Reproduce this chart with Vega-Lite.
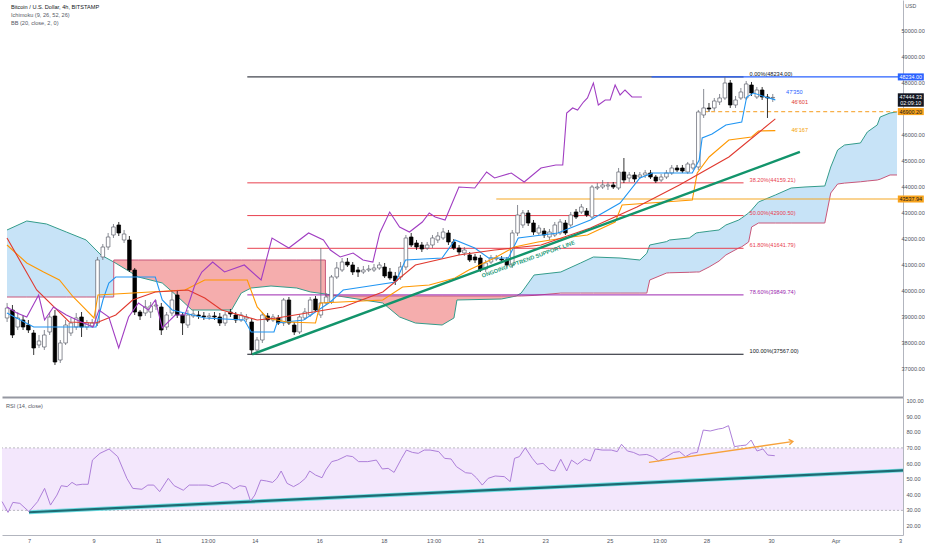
{
  "$schema": "https://vega.github.io/schema/vega-lite/v6.json",
  "background": "#ffffff",
  "padding": 0,
  "bounds": "flush",
  "spacing": 0,
  "config": {
    "view": {"stroke": null},
    "font": "Liberation Sans",
    "axis": {"labelFont": "Liberation Sans", "labelFontSize": 5.6, "labelColor": "#50535e", "ticks": false, "grid": false, "domainColor": "#b2b5be"},
    "text": {"font": "Liberation Sans", "fontSize": 5.6}
  },
  "datasets": {
    "candles": [
      {"i":-5,"o":38962,"h":39539,"l":38808,"c":39346},{"i":-4,"o":39269,"h":39462,"l":38192,"c":38308},
      {"i":-3,"o":38615,"h":39192,"l":38500,"c":38962},{"i":-2,"o":38885,"h":39077,"l":38500,"c":38615},
      {"i":-1,"o":38692,"h":38885,"l":38385,"c":38500},{"i":0,"o":38385,"h":38500,"l":37539,"c":37808},
      {"i":1,"o":37923,"h":38308,"l":37808,"c":38077},{"i":2,"o":37846,"h":38500,"l":37731,"c":38308},
      {"i":3,"o":38423,"h":39192,"l":38308,"c":39000},{"i":4,"o":39039,"h":39269,"l":37154,"c":37269},
      {"i":5,"o":37346,"h":38115,"l":37231,"c":38000},{"i":6,"o":38000,"h":38885,"l":37923,"c":38692},
      {"i":7,"o":38385,"h":38962,"l":38269,"c":38769},{"i":8,"o":38615,"h":39154,"l":38500,"c":38962},
      {"i":9,"o":39000,"h":39192,"l":38231,"c":38615},{"i":10,"o":38615,"h":38885,"l":38500,"c":38769},
      {"i":11,"o":38654,"h":38923,"l":38577,"c":38769},{"i":12,"o":38769,"h":41308,"l":38654,"c":41192},
      {"i":13,"o":41308,"h":41808,"l":41192,"c":41692},{"i":14,"o":41692,"h":42231,"l":41577,"c":42077},
      {"i":15,"o":42154,"h":42577,"l":42039,"c":42462},{"i":16,"o":42539,"h":42654,"l":42115,"c":42231},
      {"i":17,"o":41962,"h":42346,"l":41846,"c":42192},{"i":18,"o":41962,"h":42115,"l":40731,"c":40808},
      {"i":19,"o":40808,"h":40885,"l":39077,"c":39192},{"i":20,"o":39192,"h":39269,"l":38885,"c":39039},
      {"i":21,"o":39154,"h":39654,"l":39039,"c":39385},{"i":22,"o":39192,"h":39577,"l":38962,"c":39423},
      {"i":23,"o":39423,"h":39654,"l":39269,"c":39462},{"i":24,"o":39385,"h":39539,"l":38308,"c":38500},
      {"i":25,"o":38615,"h":39192,"l":38500,"c":39077},{"i":26,"o":39154,"h":40039,"l":39039,"c":39654},
      {"i":27,"o":39846,"h":40039,"l":38962,"c":39077},{"i":28,"o":39077,"h":39192,"l":38308,"c":38769},
      {"i":29,"o":38692,"h":39269,"l":38577,"c":39077},{"i":30,"o":39039,"h":39269,"l":38962,"c":39115},
      {"i":31,"o":39077,"h":39231,"l":38923,"c":39039},{"i":32,"o":39039,"h":39192,"l":38885,"c":39000},
      {"i":33,"o":39000,"h":39154,"l":38885,"c":39039},{"i":34,"o":39039,"h":39192,"l":38885,"c":39000},
      {"i":35,"o":39000,"h":39154,"l":38654,"c":38769},{"i":36,"o":38769,"h":39192,"l":38654,"c":39077},
      {"i":37,"o":39192,"h":39308,"l":39000,"c":39115},{"i":38,"o":39077,"h":39192,"l":38769,"c":38885},
      {"i":39,"o":38885,"h":39192,"l":38808,"c":39077},{"i":40,"o":38923,"h":39115,"l":38808,"c":39000},
      {"i":41,"o":38808,"h":38962,"l":37567,"c":37731},{"i":42,"o":37731,"h":38231,"l":37615,"c":38115},
      {"i":43,"o":38115,"h":39192,"l":38000,"c":39077},{"i":44,"o":39039,"h":39154,"l":38808,"c":38885},
      {"i":45,"o":38885,"h":39115,"l":38808,"c":39000},{"i":46,"o":38962,"h":39077,"l":38692,"c":38769},
      {"i":47,"o":38769,"h":39731,"l":38654,"c":39654},{"i":48,"o":39654,"h":39769,"l":38692,"c":38769},
      {"i":49,"o":38692,"h":38808,"l":38308,"c":38423},{"i":50,"o":38423,"h":39115,"l":38346,"c":39000},
      {"i":51,"o":38962,"h":39346,"l":38885,"c":39192},{"i":52,"o":39077,"h":39769,"l":39000,"c":39654},
      {"i":53,"o":39692,"h":39808,"l":39192,"c":39269},{"i":54,"o":39077,"h":41654,"l":38962,"c":39539},
      {"i":55,"o":39539,"h":39923,"l":39462,"c":39769},{"i":56,"o":39577,"h":40615,"l":39500,"c":40539},
      {"i":57,"o":40539,"h":41115,"l":40462,"c":40885},{"i":58,"o":40808,"h":41269,"l":40731,"c":41115},
      {"i":59,"o":41115,"h":41269,"l":40923,"c":41000},{"i":60,"o":41000,"h":41115,"l":40615,"c":40731},
      {"i":61,"o":40808,"h":40923,"l":40539,"c":40731},{"i":62,"o":40731,"h":40962,"l":40654,"c":40808},
      {"i":63,"o":40808,"h":41000,"l":40731,"c":40846},{"i":64,"o":40808,"h":41039,"l":40731,"c":40885},
      {"i":65,"o":40885,"h":41115,"l":40808,"c":41000},{"i":66,"o":40923,"h":41077,"l":40500,"c":40577},
      {"i":67,"o":40731,"h":40885,"l":40423,"c":40500},{"i":68,"o":40577,"h":40731,"l":40231,"c":40385},
      {"i":69,"o":40539,"h":41115,"l":40423,"c":40923},{"i":70,"o":40923,"h":42154,"l":40808,"c":42039},
      {"i":71,"o":42077,"h":42231,"l":41692,"c":41769},{"i":72,"o":41846,"h":41962,"l":41577,"c":41692},
      {"i":73,"o":41769,"h":41885,"l":41500,"c":41615},{"i":74,"o":41654,"h":41885,"l":41577,"c":41769},
      {"i":75,"o":41769,"h":42154,"l":41654,"c":42039},{"i":76,"o":41962,"h":42269,"l":41846,"c":42115},
      {"i":77,"o":42039,"h":42423,"l":41962,"c":42269},{"i":78,"o":42231,"h":42346,"l":41769,"c":41885},
      {"i":79,"o":41885,"h":42000,"l":41577,"c":41654},{"i":80,"o":41654,"h":41769,"l":41385,"c":41500},
      {"i":81,"o":41462,"h":41692,"l":41346,"c":41577},{"i":82,"o":41385,"h":41500,"l":41115,"c":41192},
      {"i":83,"o":41308,"h":41423,"l":41077,"c":41192},{"i":84,"o":41269,"h":41385,"l":40731,"c":40808},
      {"i":85,"o":40846,"h":41192,"l":40731,"c":41077},{"i":86,"o":41115,"h":41385,"l":41039,"c":41269},
      {"i":87,"o":41231,"h":41385,"l":41154,"c":41269},{"i":88,"o":41231,"h":41346,"l":41115,"c":41192},
      {"i":89,"o":41192,"h":41308,"l":40923,"c":41000},{"i":90,"o":41000,"h":42346,"l":40885,"c":42231},
      {"i":91,"o":42231,"h":43308,"l":42115,"c":42923},{"i":92,"o":42539,"h":43115,"l":42423,"c":43000},
      {"i":93,"o":43000,"h":43115,"l":42500,"c":42615},{"i":94,"o":42615,"h":42731,"l":42154,"c":42269},
      {"i":95,"o":42231,"h":42539,"l":42154,"c":42423},{"i":96,"o":42308,"h":42423,"l":42039,"c":42154},
      {"i":97,"o":42077,"h":42385,"l":41962,"c":42269},{"i":98,"o":42154,"h":42654,"l":42077,"c":42539},
      {"i":99,"o":42231,"h":42769,"l":42154,"c":42654},{"i":100,"o":42615,"h":42731,"l":42154,"c":42231},
      {"i":101,"o":42539,"h":43039,"l":42462,"c":42923},{"i":102,"o":43039,"h":43154,"l":42769,"c":42846},
      {"i":103,"o":43039,"h":43346,"l":42962,"c":43231},{"i":104,"o":43077,"h":43192,"l":42846,"c":42923},
      {"i":105,"o":42846,"h":44077,"l":42769,"c":44000},{"i":106,"o":43962,"h":44154,"l":43885,"c":44000},
      {"i":107,"o":44000,"h":44269,"l":43923,"c":44077},{"i":108,"o":44039,"h":44192,"l":43885,"c":44077},
      {"i":109,"o":44077,"h":44192,"l":43923,"c":44000},{"i":110,"o":43962,"h":44731,"l":43885,"c":44577},
      {"i":111,"o":44577,"h":45115,"l":44154,"c":44269},{"i":112,"o":44346,"h":44577,"l":44192,"c":44462},
      {"i":113,"o":44462,"h":44577,"l":44192,"c":44308},{"i":114,"o":44385,"h":44577,"l":44308,"c":44462},
      {"i":115,"o":44462,"h":44654,"l":44346,"c":44539},{"i":116,"o":44539,"h":44654,"l":44308,"c":44385},
      {"i":117,"o":44385,"h":44462,"l":44154,"c":44231},{"i":118,"o":44269,"h":44500,"l":44192,"c":44385},
      {"i":119,"o":44385,"h":44654,"l":44308,"c":44539},{"i":120,"o":44539,"h":44846,"l":44462,"c":44731},
      {"i":121,"o":44731,"h":44846,"l":44577,"c":44654},{"i":122,"o":44731,"h":44846,"l":44539,"c":44615},
      {"i":123,"o":44577,"h":44962,"l":44500,"c":44885},{"i":124,"o":44731,"h":45039,"l":44654,"c":44885},
      {"i":125,"o":44769,"h":46962,"l":44654,"c":46885},{"i":126,"o":46769,"h":47769,"l":46654,"c":47039},
      {"i":127,"o":47039,"h":47231,"l":46885,"c":47000},{"i":128,"o":47039,"h":47423,"l":46923,"c":47308},
      {"i":129,"o":47269,"h":47577,"l":47154,"c":47423},{"i":130,"o":47423,"h":48234,"l":47346,"c":48000},
      {"i":131,"o":48000,"h":48115,"l":47039,"c":47154},{"i":132,"o":47154,"h":47500,"l":47039,"c":47346},
      {"i":133,"o":47423,"h":47808,"l":47346,"c":47654},{"i":134,"o":47423,"h":48077,"l":47346,"c":47962},
      {"i":135,"o":47923,"h":48039,"l":47500,"c":47615},{"i":136,"o":47462,"h":47846,"l":47385,"c":47731},
      {"i":137,"o":47731,"h":47846,"l":47346,"c":47462},{"i":138,"o":47462,"h":47577,"l":46654,"c":47423},
      {"i":139,"o":47423,"h":47577,"l":47269,"c":47444}
    ],
    "lines": [
      {"s":"tenkan","i":-5.02,"p":39154},{"s":"tenkan","i":0,"p":38615},{"s":"tenkan","i":11.72,"p":38615},
      {"s":"tenkan","i":13.02,"p":39654},{"s":"tenkan","i":14.13,"p":40308},{"s":"tenkan","i":15.44,"p":40538},
      {"s":"tenkan","i":22.87,"p":40538},{"s":"tenkan","i":24.18,"p":39654},{"s":"tenkan","i":26.04,"p":39269},
      {"s":"tenkan","i":32.17,"p":38962},{"s":"tenkan","i":39.61,"p":38885},{"s":"tenkan","i":40.91,"p":38423},
      {"s":"tenkan","i":45.19,"p":38423},{"s":"tenkan","i":45.75,"p":38769},{"s":"tenkan","i":50.77,"p":38885},
      {"s":"tenkan","i":55.79,"p":39577},{"s":"tenkan","i":58.21,"p":40039},{"s":"tenkan","i":61.93,"p":40154},
      {"s":"tenkan","i":68.07,"p":40346},{"s":"tenkan","i":69.93,"p":41192},{"s":"tenkan","i":76.81,"p":41269},
      {"s":"tenkan","i":79.23,"p":41962},{"s":"tenkan","i":82.95,"p":41654},{"s":"tenkan","i":85.55,"p":41269},
      {"s":"tenkan","i":89.27,"p":41269},{"s":"tenkan","i":91.13,"p":42038},{"s":"tenkan","i":98.57,"p":42231},
      {"s":"tenkan","i":104.71,"p":42731},{"s":"tenkan","i":110.28,"p":43385},{"s":"tenkan","i":114.01,"p":44346},
      {"s":"tenkan","i":116.42,"p":44538},{"s":"tenkan","i":123.86,"p":44538},{"s":"tenkan","i":125.16,"p":45038},
      {"s":"tenkan","i":125.72,"p":45885},{"s":"tenkan","i":127.58,"p":46038},{"s":"tenkan","i":130.18,"p":46385},
      {"s":"tenkan","i":133.16,"p":46500},{"s":"tenkan","i":134.09,"p":47461},{"s":"tenkan","i":135.39,"p":47615},
      {"s":"tenkan","i":137.62,"p":47461},{"s":"tenkan","i":139.48,"p":47350},
      {"s":"kijun","i":-5.02,"p":41769},{"s":"kijun","i":-1.3,"p":41077},{"s":"kijun","i":1.86,"p":40731},
      {"s":"kijun","i":4.84,"p":40423},{"s":"kijun","i":7.44,"p":39769},{"s":"kijun","i":9.3,"p":39385},
      {"s":"kijun","i":11.34,"p":38962},{"s":"kijun","i":12.09,"p":39846},{"s":"kijun","i":28.45,"p":40039},
      {"s":"kijun","i":32.17,"p":40423},{"s":"kijun","i":40.17,"p":40423},{"s":"kijun","i":42.03,"p":39385},
      {"s":"kijun","i":43.89,"p":38962},{"s":"kijun","i":47.61,"p":38808},{"s":"kijun","i":53.0,"p":38769},
      {"s":"kijun","i":53.93,"p":39539},{"s":"kijun","i":65.65,"p":39654},{"s":"kijun","i":69.37,"p":40154},
      {"s":"kijun","i":74.39,"p":40231},{"s":"kijun","i":79.23,"p":40500},{"s":"kijun","i":81.83,"p":40808},
      {"s":"kijun","i":86.67,"p":41269},{"s":"kijun","i":90.39,"p":41692},{"s":"kijun","i":94.85,"p":41885},
      {"s":"kijun","i":99.68,"p":42038},{"s":"kijun","i":104.15,"p":42154},{"s":"kijun","i":109.35,"p":42654},
      {"s":"kijun","i":110.65,"p":43308},{"s":"kijun","i":123.86,"p":43500},{"s":"kijun","i":124.79,"p":44538},
      {"s":"kijun","i":127.02,"p":45154},{"s":"kijun","i":130.74,"p":45808},{"s":"kijun","i":135.02,"p":45923},
      {"s":"kijun","i":136.32,"p":46154},{"s":"kijun","i":139.48,"p":46167},
      {"s":"basis","i":-5.02,"p":42038},{"s":"basis","i":0.56,"p":40039},{"s":"basis","i":6.7,"p":38808},
      {"s":"basis","i":11.72,"p":38769},{"s":"basis","i":15.44,"p":39077},{"s":"basis","i":18.6,"p":39654},
      {"s":"basis","i":22.87,"p":39962},{"s":"basis","i":29.01,"p":40039},{"s":"basis","i":32.17,"p":39731},
      {"s":"basis","i":35.34,"p":39269},{"s":"basis","i":42.03,"p":38885},{"s":"basis","i":45.75,"p":38962},
      {"s":"basis","i":58.21,"p":39385},{"s":"basis","i":65.65,"p":39962},{"s":"basis","i":71.79,"p":41000},
      {"s":"basis","i":79.97,"p":41385},{"s":"basis","i":86.67,"p":41577},{"s":"basis","i":95.41,"p":41769},
      {"s":"basis","i":104.71,"p":42423},{"s":"basis","i":113.45,"p":43231},{"s":"basis","i":121.44,"p":44077},
      {"s":"basis","i":130.74,"p":45154},{"s":"basis","i":139.48,"p":46620},
      {"s":"chikou","i":-5.02,"p":39385},{"s":"chikou","i":-3.16,"p":39154},{"s":"chikou","i":-1.3,"p":39000},
      {"s":"chikou","i":0.93,"p":39846},{"s":"chikou","i":2.05,"p":38885},{"s":"chikou","i":3.72,"p":39385},
      {"s":"chikou","i":6.14,"p":39077},{"s":"chikou","i":8.93,"p":38808},{"s":"chikou","i":11.16,"p":38615},
      {"s":"chikou","i":12.27,"p":39269},{"s":"chikou","i":14.13,"p":39000},{"s":"chikou","i":15.99,"p":37808},
      {"s":"chikou","i":17.85,"p":39000},{"s":"chikou","i":19.71,"p":39539},{"s":"chikou","i":21.57,"p":39269},
      {"s":"chikou","i":22.87,"p":39654},{"s":"chikou","i":24.18,"p":38577},{"s":"chikou","i":26.6,"p":39077},
      {"s":"chikou","i":28.45,"p":39077},{"s":"chikou","i":30.31,"p":40231},{"s":"chikou","i":31.62,"p":40731},
      {"s":"chikou","i":33.66,"p":41115},{"s":"chikou","i":35.89,"p":40731},{"s":"chikou","i":39.61,"p":41000},
      {"s":"chikou","i":42.77,"p":40423},{"s":"chikou","i":44.82,"p":42038},{"s":"chikou","i":47.98,"p":41654},
      {"s":"chikou","i":51.7,"p":42231},{"s":"chikou","i":54.49,"p":41962},{"s":"chikou","i":55.79,"p":41577},
      {"s":"chikou","i":57.65,"p":41308},{"s":"chikou","i":60.07,"p":41462},{"s":"chikou","i":61.93,"p":41192},
      {"s":"chikou","i":63.79,"p":41115},{"s":"chikou","i":65.09,"p":42231},{"s":"chikou","i":66.95,"p":43038},
      {"s":"chikou","i":68.81,"p":42462},{"s":"chikou","i":70.67,"p":42269},{"s":"chikou","i":73.09,"p":42654},
      {"s":"chikou","i":74.39,"p":43000},{"s":"chikou","i":75.51,"p":42846},{"s":"chikou","i":77.37,"p":42731},
      {"s":"chikou","i":79.97,"p":44000},{"s":"chikou","i":82.95,"p":43961},{"s":"chikou","i":85.18,"p":44577},
      {"s":"chikou","i":86.67,"p":44346},{"s":"chikou","i":89.83,"p":44538},{"s":"chikou","i":92.25,"p":44192},
      {"s":"chikou","i":95.41,"p":44731},{"s":"chikou","i":98.2,"p":44846},{"s":"chikou","i":99.5,"p":44846},
      {"s":"chikou","i":100.24,"p":46846},{"s":"chikou","i":101.36,"p":47039},{"s":"chikou","i":102.29,"p":46961},
      {"s":"chikou","i":103.4,"p":47269},{"s":"chikou","i":104.15,"p":47423},{"s":"chikou","i":105.26,"p":48000},
      {"s":"chikou","i":106.19,"p":47154},{"s":"chikou","i":107.49,"p":47346},{"s":"chikou","i":108.42,"p":47346},
      {"s":"chikou","i":109.35,"p":47923},{"s":"chikou","i":110.28,"p":47539},{"s":"chikou","i":111.21,"p":47731},
      {"s":"chikou","i":112.52,"p":47462},{"s":"chikou","i":114.38,"p":47462}
    ],
    "cloud": [
      {"seg":"up1","i":-5.02,"a":42346,"b":39769},{"seg":"up1","i":-1.3,"a":42692,"b":39769},
      {"seg":"up1","i":2.42,"a":42577,"b":39769},{"seg":"up1","i":6.14,"a":42269,"b":39769},
      {"seg":"up1","i":9.86,"a":41962,"b":39769},{"seg":"up1","i":12.65,"a":41385,"b":39769},
      {"seg":"up1","i":15.05,"a":41115,"b":39769},
      {"seg":"dn1","i":15.06,"a":41115,"b":41192},{"seg":"dn1","i":19.71,"a":40538,"b":41192},
      {"seg":"dn1","i":24.18,"a":40308,"b":41192},{"seg":"dn1","i":27.15,"a":39769,"b":41192},
      {"seg":"dn1","i":29.76,"a":39269,"b":41192},{"seg":"dn1","i":37.2,"a":39269,"b":41192},
      {"seg":"dn1","i":39.05,"a":39923,"b":41192},{"seg":"dn1","i":40.91,"a":40115,"b":41192},
      {"seg":"dn1","i":44.63,"a":40192,"b":41192},{"seg":"dn1","i":49.47,"a":40115,"b":41192},
      {"seg":"dn1","i":52.07,"a":39962,"b":41192},{"seg":"dn1","i":54.86,"a":39885,"b":41192},
      {"seg":"dn2","i":54.87,"a":39885,"b":39808},{"seg":"dn2","i":57.28,"a":39808,"b":39808},
      {"seg":"dn2","i":65.65,"a":39539,"b":39808},{"seg":"dn2","i":68.81,"a":39000,"b":39808},
      {"seg":"dn2","i":71.79,"a":38769,"b":39808},{"seg":"dn2","i":76.81,"a":38692,"b":39808},
      {"seg":"dn2","i":79.04,"a":38962,"b":39808},{"seg":"dn2","i":79.6,"a":39654,"b":39808},
      {"seg":"dn2","i":87.97,"a":39692,"b":39808},{"seg":"dn2","i":90.76,"a":39808,"b":39808},
      {"seg":"up2","i":90.77,"a":39808,"b":39808},{"seg":"up2","i":91.69,"a":39923,"b":39808},
      {"seg":"up2","i":94.11,"a":40615,"b":39830},{"seg":"up2","i":99.13,"a":40731,"b":39920},
      {"seg":"up2","i":102.85,"a":41077,"b":39920},{"seg":"up2","i":105.26,"a":41308,"b":39920},
      {"seg":"up2","i":110.28,"a":41269,"b":39920},{"seg":"up2","i":114.01,"a":41192,"b":39920},
      {"seg":"up2","i":115.31,"a":41450,"b":39920},{"seg":"up2","i":115.86,"a":41769,"b":40423},
      {"seg":"up2","i":119.03,"a":41900,"b":40692},{"seg":"up2","i":119.58,"a":41962,"b":40700},
      {"seg":"up2","i":123.3,"a":42038,"b":40720},{"seg":"up2","i":124.6,"a":42231,"b":40731},
      {"seg":"up2","i":125.16,"a":42250,"b":40731},{"seg":"up2","i":127.02,"a":42300,"b":40923},
      {"seg":"up2","i":128.88,"a":42346,"b":41150},{"seg":"up2","i":130.18,"a":42538,"b":41385},
      {"seg":"up2","i":132.6,"a":42730,"b":41654},{"seg":"up2","i":133.16,"a":42808,"b":41700},
      {"seg":"up2","i":134.46,"a":43000,"b":41885},{"seg":"up2","i":135.02,"a":43115,"b":42462},
      {"seg":"up2","i":136.32,"a":43423,"b":42615},{"seg":"up2","i":139.48,"a":43692,"b":42615},
      {"seg":"up2","i":142.46,"a":43961,"b":42615},{"seg":"up2","i":145.06,"a":44000,"b":42615},
      {"seg":"up2","i":148.78,"a":44038,"b":42615},{"seg":"up2","i":149.9,"a":44769,"b":43769},
      {"seg":"up2","i":151.2,"a":45423,"b":44115},{"seg":"up2","i":152.5,"a":45615,"b":44150},
      {"seg":"up2","i":155.48,"a":45692,"b":44200},{"seg":"up2","i":156.78,"a":46115,"b":44230},
      {"seg":"up2","i":158.64,"a":46385,"b":44269},{"seg":"up2","i":159.2,"a":46692,"b":44300},
      {"seg":"up2","i":161.06,"a":46846,"b":44462},{"seg":"up2","i":162.36,"a":46885,"b":44462}
    ],
    "fib": [
      {"lvl":"0","p":48234,"i1":40.17,"i2":133.5,"label":"0.00%(48234.00)"},
      {"lvl":"38.2","p":44159.21,"i1":40.17,"i2":133.5,"label":"38.20%(44159.21)"},
      {"lvl":"50","p":42900.5,"i1":40.17,"i2":133.5,"label":"50.00%(42900.50)"},
      {"lvl":"61.8","p":41641.79,"i1":40.17,"i2":133.5,"label":"61.80%(41641.79)"},
      {"lvl":"78.6","p":39849.74,"i1":40.17,"i2":133.5,"label":"78.60%(39849.74)"},
      {"lvl":"100","p":37567,"i1":40.17,"i2":133.5,"label":"100.00%(37567.00)"}
    ],
    "hlines": [
      {"k":"res","p":43537.94,"i1":87.0,"i2":162.55,"t":"43537.94"},
      {"k":"alert","p":46900.2,"i1":126.1,"i2":162.55,"t":"46900.20"},
      {"k":"top","p":48234,"i1":116.2,"i2":162.55,"t":"48234.00"}
    ],
    "ind": [
      {"k":"tenkan","t":"47'350","i":141.5,"p":47665},
      {"k":"basis","t":"46'601","i":142.5,"p":47281},
      {"k":"kijun","t":"46'167","i":142.5,"p":46192}
    ],
    "pticks": [
      {"p":37000},{"p":38000},{"p":39000},{"p":40000},{"p":41000},{"p":42000},{"p":43000},
      {"p":44000},{"p":45000},{"p":46000},{"p":48000},{"p":49000},{"p":50000}
    ],
    "rticks": [
      {"r":20},{"r":30},{"r":40},{"r":50},{"r":60},{"r":70},{"r":80},{"r":90},{"r":100}
    ],
    "rsi": [
      {"i":-5.0,"r":35.6},{"i":-3.9,"r":28.7},{"i":-3.0,"r":35.1},{"i":-1.7,"r":34.5},{"i":0,"r":29.2},
      {"i":1.6,"r":35.6},{"i":2.9,"r":44.1},{"i":4.0,"r":33.4},{"i":5.2,"r":39.8},{"i":6.0,"r":45.8},
      {"i":7.1,"r":45.2},{"i":8.0,"r":47.9},{"i":8.8,"r":46.2},{"i":9.9,"r":46.7},{"i":11.0,"r":46.7},
      {"i":11.8,"r":62.2},{"i":13.2,"r":66.5},{"i":14.9,"r":69.3},{"i":16.5,"r":64.4},{"i":18.2,"r":50.5},
      {"i":19.3,"r":44.1},{"i":21.0,"r":43.5},{"i":22.1,"r":46.2},{"i":23.2,"r":46.2},{"i":24.3,"r":42.0},
      {"i":25.9,"r":50.5},{"i":27.0,"r":45.8},{"i":28.7,"r":42.9},{"i":29.8,"r":46.2},{"i":31.5,"r":46.2},
      {"i":33.1,"r":46.2},{"i":34.2,"r":45.2},{"i":35.9,"r":47.9},{"i":37.0,"r":46.9},{"i":38.1,"r":43.7},
      {"i":39.2,"r":45.8},{"i":40.3,"r":45.2},{"i":41.2,"r":36.0},{"i":42.0,"r":39.8},{"i":43.1,"r":49.4},
      {"i":44.2,"r":48.8},{"i":45.3,"r":47.9},{"i":46.1,"r":50.5},{"i":46.9,"r":55.2},{"i":48.0,"r":47.3},
      {"i":49.2,"r":45.2},{"i":50.3,"r":47.3},{"i":51.4,"r":50.5},{"i":52.2,"r":55.2},{"i":53.3,"r":52.6},
      {"i":54.5,"r":50.9},{"i":55.2,"r":55.8},{"i":56.3,"r":61.2},{"i":57.4,"r":62.2},{"i":59.1,"r":65.0},
      {"i":60.2,"r":64.4},{"i":61.3,"r":61.2},{"i":63.0,"r":61.2},{"i":64.6,"r":62.2},{"i":65.7,"r":56.5},
      {"i":66.8,"r":56.9},{"i":67.9,"r":54.3},{"i":69.3,"r":63.3},{"i":70.2,"r":68.6},{"i":71.3,"r":67.1},
      {"i":72.4,"r":66.5},{"i":73.5,"r":68.6},{"i":74.6,"r":68.6},{"i":76.2,"r":67.6},{"i":77.3,"r":63.3},
      {"i":78.5,"r":62.9},{"i":79.5,"r":58.0},{"i":81.2,"r":54.1},{"i":82.3,"r":53.7},{"i":83.2,"r":50.9},
      {"i":84.3,"r":46.2},{"i":85.4,"r":50.5},{"i":86.7,"r":52.0},{"i":88.4,"r":51.6},{"i":89.5,"r":48.4},
      {"i":90.3,"r":63.3},{"i":91.2,"r":64.4},{"i":92.3,"r":70.1},{"i":93.6,"r":63.3},{"i":94.5,"r":59.5},
      {"i":95.6,"r":60.1},{"i":96.9,"r":55.8},{"i":97.8,"r":55.2},{"i":98.9,"r":62.7},{"i":100.0,"r":55.2},
      {"i":100.9,"r":62.2},{"i":102.0,"r":59.5},{"i":103.3,"r":62.9},{"i":104.4,"r":61.6},{"i":105.3,"r":69.3},
      {"i":106.6,"r":68.6},{"i":108.3,"r":68.6},{"i":109.4,"r":67.6},{"i":110.2,"r":72.3},{"i":111.3,"r":68.0},
      {"i":112.4,"r":67.1},{"i":113.5,"r":65.4},{"i":114.9,"r":65.8},{"i":116.0,"r":64.4},{"i":117.1,"r":61.6},
      {"i":118.2,"r":63.7},{"i":119.9,"r":67.1},{"i":121.0,"r":67.6},{"i":122.1,"r":64.4},{"i":123.2,"r":66.5},
      {"i":124.3,"r":67.1},{"i":125.4,"r":81.4},{"i":126.7,"r":80.8},{"i":128.2,"r":82.1},{"i":129.0,"r":82.5},
      {"i":130.1,"r":84.2},{"i":131.2,"r":70.8},{"i":132.3,"r":71.4},{"i":133.4,"r":71.8},{"i":134.3,"r":75.0},
      {"i":135.4,"r":68.0},{"i":136.5,"r":69.3},{"i":137.4,"r":65.4},{"i":138.7,"r":65.0}
    ]
  },
  "vconcat": [
    {
      "width": 901,
      "height": 397,
      "layer": [
        {
          "data": {"name": "cloud"},
          "mark": {"type": "area", "opacity": 0.95},
          "encoding": {
            "x": {"field": "i", "type": "quantitative", "title": null,
              "scale": {"domain": [-5.02, 162.55], "nice": false, "zero": false},
              "axis": {"labels": false, "domainColor": "#9598a1", "domainWidth": 2}},
            "y": {"field": "a", "type": "quantitative", "title": null,
              "scale": {"domain": [35923, 51192], "nice": false, "zero": false},
              "axis": {"orient": "right", "labels": false, "values": [40000]}},
            "y2": {"field": "b"},
            "color": {"field": "seg", "type": "nominal", "legend": null,
              "scale": {"domain": ["up1", "dn1", "dn2", "up2"], "range": ["#c4e2f7", "#f4a9a9", "#f4a9a9", "#c4e2f7"]}}
          }
        },
        {
          "data": {"name": "cloud"},
          "mark": {"type": "line", "color": "#349c8b", "strokeWidth": 1},
          "encoding": {
            "x": {"field": "i", "type": "quantitative", "title": null},
            "y": {"field": "a", "type": "quantitative", "title": null}
          }
        },
        {
          "data": {"name": "cloud"},
          "mark": {"type": "line", "color": "#c8577a", "strokeWidth": 1},
          "encoding": {
            "x": {"field": "i", "type": "quantitative", "title": null},
            "y": {"field": "b", "type": "quantitative", "title": null}
          }
        },
        {
          "data": {"name": "fib"},
          "mark": {"type": "rule", "strokeWidth": 1},
          "encoding": {
            "x": {"field": "i1", "type": "quantitative", "title": null},
            "x2": {"field": "i2"},
            "y": {"field": "p", "type": "quantitative", "title": null},
            "color": {"field": "lvl", "type": "nominal", "legend": null,
              "scale": {"domain": ["0", "38.2", "50", "61.8", "78.6", "100"], "range": ["#131722", "#e8414f", "#e8414f", "#e8414f", "#9c27b0", "#131722"]}}
          }
        },
        {
          "data": {"name": "fib"},
          "mark": {"type": "text", "align": "left", "baseline": "middle", "dx": 6, "dy": -3},
          "encoding": {
            "x": {"field": "i2", "type": "quantitative", "title": null},
            "y": {"field": "p", "type": "quantitative", "title": null},
            "text": {"field": "label"},
            "color": {"field": "lvl", "type": "nominal", "legend": null,
              "scale": {"domain": ["0", "38.2", "50", "61.8", "78.6", "100"], "range": ["#131722", "#e8414f", "#e8414f", "#e8414f", "#9c27b0", "#131722"]}}
          }
        },
        {
          "data": {"name": "hlines"},
          "mark": {"type": "rule", "strokeWidth": 1.1},
          "encoding": {
            "x": {"field": "i1", "type": "quantitative", "title": null},
            "x2": {"field": "i2"},
            "y": {"field": "p", "type": "quantitative", "title": null},
            "color": {"field": "k", "type": "nominal", "legend": null,
              "scale": {"domain": ["res", "alert", "top"], "range": ["#f5a623", "#f7b04a", "#2962ff"]}},
            "strokeDash": {"field": "k", "type": "nominal", "legend": null,
              "scale": {"domain": ["res", "alert", "top"], "range": [[1, 0], [4, 3], [1, 0]]}}
          }
        },
        {
          "data": {"name": "candles"},
          "mark": {"type": "rule", "strokeWidth": 0.8},
          "encoding": {
            "x": {"field": "i", "type": "quantitative", "title": null},
            "y": {"field": "l", "type": "quantitative", "title": null},
            "y2": {"field": "h"},
            "color": {"condition": {"test": "datum.c >= datum.o", "value": "#6b6e78"}, "value": "#000000"}
          }
        },
        {
          "data": {"name": "candles"},
          "mark": {"type": "bar", "size": 3.6, "strokeWidth": 0.7},
          "encoding": {
            "x": {"field": "i", "type": "quantitative", "title": null},
            "y": {"field": "o", "type": "quantitative", "title": null},
            "y2": {"field": "c"},
            "fill": {"condition": {"test": "datum.c >= datum.o", "value": "#ffffff"}, "value": "#000000"},
            "stroke": {"condition": {"test": "datum.c >= datum.o", "value": "#5d606b"}, "value": "#000000"}
          }
        },
        {
          "data": {"name": "lines"},
          "mark": {"type": "line", "strokeWidth": 1.1},
          "encoding": {
            "x": {"field": "i", "type": "quantitative", "title": null},
            "y": {"field": "p", "type": "quantitative", "title": null},
            "color": {"field": "s", "type": "nominal", "legend": null,
              "scale": {"domain": ["tenkan", "kijun", "basis", "chikou"], "range": ["#2196f3", "#ff9800", "#e0392f", "#a13ec2"]}}
          }
        },
        {
          "data": {"values": [{"i1": 41.1, "p1": 37567, "i2": 144.1, "p2": 45346}]},
          "mark": {"type": "rule", "color": "#12946b", "strokeWidth": 2.4},
          "encoding": {
            "x": {"field": "i1", "type": "quantitative", "title": null},
            "x2": {"field": "i2"},
            "y": {"field": "p1", "type": "quantitative", "title": null},
            "y2": {"field": "p2"}
          }
        },
        {
          "data": {"values": [{"t": "ONGOING UPTREND SUPPORT LINE", "i": 93.0, "p": 41230}]},
          "mark": {"type": "text", "color": "#1a9a78", "fontWeight": "bold", "fontSize": 5.6, "angle": 340, "align": "center", "baseline": "middle"},
          "encoding": {
            "x": {"field": "i", "type": "quantitative", "title": null},
            "y": {"field": "p", "type": "quantitative", "title": null},
            "text": {"field": "t"}
          }
        },
        {
          "data": {"name": "ind"},
          "mark": {"type": "text", "align": "left", "baseline": "middle"},
          "encoding": {
            "x": {"field": "i", "type": "quantitative", "title": null},
            "y": {"field": "p", "type": "quantitative", "title": null},
            "text": {"field": "t"},
            "color": {"field": "k", "type": "nominal", "legend": null,
              "scale": {"domain": ["tenkan", "kijun", "basis"], "range": ["#2962ff", "#f59f00", "#e0392f"]}}
          }
        },
        {
          "data": {"values": [
            {"t": "Bitcoin / U.S. Dollar, 4h, BITSTAMP", "k": "main", "p": 50934},
            {"t": "Ichimoku (9, 26, 52, 26)", "k": "ind", "p": 50615},
            {"t": "BB (20, close, 2, 0)", "k": "ind", "p": 50296}
          ]},
          "mark": {"type": "text", "align": "left", "baseline": "middle"},
          "encoding": {
            "x": {"datum": -4.28, "type": "quantitative", "title": null},
            "y": {"field": "p", "type": "quantitative", "title": null},
            "text": {"field": "t"},
            "color": {"field": "k", "type": "nominal", "legend": null,
              "scale": {"domain": ["main", "ind"], "range": ["#131722", "#555a66"]}}
          }
        },
        {
          "data": {"name": "pticks"},
          "mark": {"type": "text", "align": "left", "baseline": "middle", "dx": 3.5, "color": "#50535e", "fontSize": 5.6},
          "encoding": {
            "x": {"datum": 162.55, "type": "quantitative", "title": null},
            "y": {"field": "p", "type": "quantitative", "title": null},
            "text": {"field": "p", "type": "quantitative", "format": ".2f"}
          }
        },
        {
          "data": {"values": [{"t": "USD", "p": 50961}]},
          "mark": {"type": "text", "align": "center", "baseline": "middle", "color": "#50535e", "fontSize": 5.2},
          "encoding": {
            "x": {"datum": 164.96, "type": "quantitative", "title": null},
            "y": {"field": "p", "type": "quantitative", "title": null},
            "text": {"field": "t"}
          }
        },
        {
          "data": {"name": "hlines"},
          "mark": {"type": "point", "shape": "M-1,-0.27L1,-0.27L1,0.27L-1,0.27Z", "size": 676, "filled": true, "opacity": 1},
          "encoding": {
            "x": {"datum": 164.96, "type": "quantitative", "title": null},
            "y": {"field": "p", "type": "quantitative", "title": null},
            "color": {"field": "k", "type": "nominal", "legend": null,
              "scale": {"domain": ["res", "alert", "top"], "range": ["#f7a21b", "#f7a21b", "#2962ff"]}}
          }
        },
        {
          "data": {"name": "hlines"},
          "mark": {"type": "text", "align": "center", "baseline": "middle", "fontSize": 5.4},
          "encoding": {
            "x": {"datum": 164.96, "type": "quantitative", "title": null},
            "y": {"field": "p", "type": "quantitative", "title": null},
            "text": {"field": "t"},
            "color": {"field": "k", "type": "nominal", "legend": null,
              "scale": {"domain": ["res", "alert", "top"], "range": ["#131722", "#131722", "#ffffff"]}}
          }
        },
        {
          "data": {"values": [{"p": 47346}]},
          "mark": {"type": "point", "shape": "M-1,-0.515L1,-0.515L1,0.515L-1,0.515Z", "size": 676, "filled": true, "opacity": 1, "color": "#131722"},
          "encoding": {
            "x": {"datum": 164.96, "type": "quantitative", "title": null},
            "y": {"field": "p", "type": "quantitative", "title": null}
          }
        },
        {
          "data": {"values": [{"t": "47444.33", "p": 47473}, {"t": "02:09:10", "p": 47219}]},
          "mark": {"type": "text", "align": "center", "baseline": "middle", "fontSize": 5.4, "color": "#ffffff"},
          "encoding": {
            "x": {"datum": 164.96, "type": "quantitative", "title": null},
            "y": {"field": "p", "type": "quantitative", "title": null},
            "text": {"field": "t"}
          }
        }
      ],
      "resolve": {"scale": {"color": "independent", "strokeDash": "independent"}}
    },
    {
      "width": 901,
      "height": 138,
      "layer": [
        {
          "data": {"values": [{"lo": 30, "hi": 70, "i1": -5.02, "i2": 162.55}]},
          "mark": {"type": "rect", "color": "#f3e7fc"},
          "encoding": {
            "x": {"field": "i1", "type": "quantitative", "title": null,
              "scale": {"domain": [-5.02, 162.55], "nice": false, "zero": false},
              "axis": {"values": [0, 12, 24, 33.25, 42, 54, 66, 75.25, 84, 96, 108, 117.25, 126, 138, 150, 162],
                "labelExpr": "datum.value == 33.25 || datum.value == 75.25 || datum.value == 117.25 ? '13:00' : datum.value == 150 ? 'Apr' : datum.value == 162 ? '3' : '' + (7 + datum.value / 6)",
                "labelPadding": 3, "domainColor": "#b2b5be", "labelFlush": false}},
            "x2": {"field": "i2"},
            "y": {"field": "lo", "type": "quantitative", "title": null,
              "scale": {"domain": [14.24, 102.56], "nice": false, "zero": false},
              "axis": {"orient": "right", "labels": false, "values": [50]}},
            "y2": {"field": "hi"}
          }
        },
        {
          "data": {"values": [{"r": 70}, {"r": 30}]},
          "mark": {"type": "rule", "color": "#a9a9b0", "strokeWidth": 0.8, "strokeDash": [2, 2]},
          "encoding": {
            "y": {"field": "r", "type": "quantitative", "title": null}
          }
        },
        {
          "data": {"values": [{"i1": 0, "r1": 28.8, "i2": 162.55, "r2": 55.6}]},
          "mark": {"type": "rule", "color": "#6fdde2", "strokeWidth": 4},
          "encoding": {
            "x": {"field": "i1", "type": "quantitative", "title": null},
            "x2": {"field": "i2"},
            "y": {"field": "r1", "type": "quantitative", "title": null},
            "y2": {"field": "r2"}
          }
        },
        {
          "data": {"values": [{"i1": 0, "r1": 28.8, "i2": 162.55, "r2": 55.6}]},
          "mark": {"type": "rule", "color": "#1e6b73", "strokeWidth": 2.2},
          "encoding": {
            "x": {"field": "i1", "type": "quantitative", "title": null},
            "x2": {"field": "i2"},
            "y": {"field": "r1", "type": "quantitative", "title": null},
            "y2": {"field": "r2"}
          }
        },
        {
          "data": {"name": "rsi"},
          "mark": {"type": "line", "color": "#ad7fd9", "strokeWidth": 1},
          "encoding": {
            "x": {"field": "i", "type": "quantitative", "title": null},
            "y": {"field": "r", "type": "quantitative", "title": null}
          }
        },
        {
          "data": {"values": [{"i1": 115.3, "r1": 60.7, "i2": 141.9, "r2": 74.0}]},
          "mark": {"type": "rule", "color": "#f7a23b", "strokeWidth": 1.4},
          "encoding": {
            "x": {"field": "i1", "type": "quantitative", "title": null},
            "x2": {"field": "i2"},
            "y": {"field": "r1", "type": "quantitative", "title": null},
            "y2": {"field": "r2"}
          }
        },
        {
          "data": {"values": [{"i": 141.9, "r": 74.0}]},
          "mark": {"type": "point", "shape": "M-1,-0.9L0.3,0L-1,0.9", "size": 36, "filled": false, "color": "#f7a23b", "strokeWidth": 1.4, "angle": 352, "opacity": 1},
          "encoding": {
            "x": {"field": "i", "type": "quantitative", "title": null},
            "y": {"field": "r", "type": "quantitative", "title": null}
          }
        },
        {
          "data": {"name": "rticks"},
          "mark": {"type": "text", "align": "left", "baseline": "middle", "dx": 3.5, "color": "#50535e", "fontSize": 5.6},
          "encoding": {
            "x": {"datum": 162.55, "type": "quantitative", "title": null},
            "y": {"field": "r", "type": "quantitative", "title": null},
            "text": {"field": "r", "type": "quantitative", "format": ".2f"}
          }
        },
        {
          "data": {"values": [{"t": "RSI (14, close)", "i": -4.28, "r": 97}]},
          "mark": {"type": "text", "align": "left", "baseline": "middle", "color": "#555a66"},
          "encoding": {
            "x": {"field": "i", "type": "quantitative", "title": null},
            "y": {"field": "r", "type": "quantitative", "title": null},
            "text": {"field": "t"}
          }
        }
      ]
    }
  ],
  "resolve": {"scale": {"x": "independent", "y": "independent"}}
}
